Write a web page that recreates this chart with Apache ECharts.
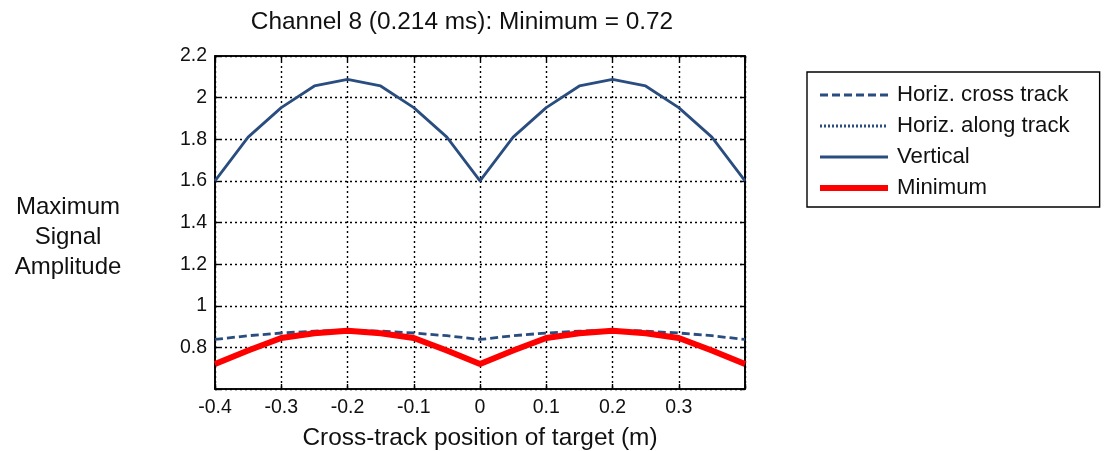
<!DOCTYPE html>
<html>
<head>
<meta charset="utf-8">
<script src="https://cdn.jsdelivr.net/npm/echarts@6/dist/echarts.min.js"></script>
<style>
  html, body { margin: 0; padding: 0; background: #fff; }
  #chart { width: 1106px; height: 451px; }
</style>
</head>
<body>
<div id="chart"></div>
<script>
// Target cross-track positions (m)
const positions = [-0.4, -0.35, -0.3, -0.25, -0.2, -0.15, -0.1, -0.05, 0,
                   0.05, 0.1, 0.15, 0.2, 0.25, 0.3, 0.35, 0.4];
// Maximum signal amplitude per sensor component
const horizCross = [0.838, 0.856, 0.869, 0.878, 0.883, 0.878, 0.869, 0.856, 0.838,
                    0.856, 0.869, 0.878, 0.883, 0.878, 0.869, 0.856, 0.838];
const horizAlong = [0.72, 0.785, 0.845, 0.868, 0.88, 0.868, 0.845, 0.785, 0.72,
                    0.785, 0.845, 0.868, 0.88, 0.868, 0.845, 0.785, 0.72];
const vertical   = [1.60, 1.81, 1.952, 2.056, 2.088, 2.056, 1.952, 1.81, 1.60,
                    1.81, 1.952, 2.056, 2.088, 2.056, 1.952, 1.81, 1.60];
const minimum    = [0.72, 0.785, 0.845, 0.868, 0.88, 0.868, 0.845, 0.785, 0.72,
                    0.785, 0.845, 0.868, 0.88, 0.868, 0.845, 0.785, 0.72];

const seriesNames = ['Horiz. cross track', 'Horiz. along track', 'Vertical', 'Minimum'];
const titleText = 'Channel 8 (0.214 ms): Minimum = 0.72';
const yName = 'Maximum\nSignal\nAmplitude';
const xName = 'Cross-track position of target (m)';

const blue = '#2a4d80';
const red = '#ff0000';
const font = 'Liberation Sans, Arial, sans-serif';

// Line styles shared between each series and its legend entry
const styles = [
  { color: blue, width: 2.8, type: [8, 4] },
  { color: blue, width: 2.8, type: [2, 2] },
  { color: blue, width: 2.8, type: 'solid' },
  { color: red, width: 6, type: 'solid' }
];
const seriesData = [horizCross, horizAlong, vertical, minimum];
const zOrder = [3, 2, 3, 4];

const pairs = arr => positions.map((x, i) => [x, arr[i]]);

const chart = echarts.init(document.getElementById('chart'));
const gridLine = { show: true, lineStyle: { color: '#000', type: [2, 3], width: 1.4 } };
const tick = { show: true, inside: true, length: 5, lineStyle: { color: '#000', width: 1.4 } };
const frameLine = { show: true, onZero: false, lineStyle: { color: '#000', width: 1.6 } };

chart.setOption({
  animation: false,
  textStyle: { fontFamily: font },
  title: [
    { text: titleText, left: 457, top: 5, textAlign: 'center',
      textStyle: { fontSize: 24.4, fontWeight: 'normal', color: '#111', fontFamily: font } },
    { text: yName, left: 63, top: 187, textAlign: 'center',
      textStyle: { fontSize: 24, fontWeight: 'normal', color: '#111', lineHeight: 30, fontFamily: font } }
  ],
  legend: {
    orient: 'vertical', left: 807, top: 72,
    data: seriesNames.map((name, i) => ({
      name, itemStyle: { opacity: 0 }, lineStyle: Object.assign({}, styles[i])
    })),
    itemWidth: 68, itemHeight: 14, itemGap: 9,
    padding: [12, 30, 8, 10],
    borderColor: '#000', borderWidth: 1.4,
    textStyle: { fontSize: 22.2, lineHeight: 22, color: '#111', fontFamily: font, padding: [0, 0, 0, 4] }
  },
  grid: { left: 215, right: 361, top: 56, bottom: 62, show: true,
    borderColor: '#000', borderWidth: 1.6, outerBoundsMode: 'none', containLabel: false },
  xAxis: [{
    type: 'value', min: -0.4, max: 0.4, interval: 0.1,
    name: xName, nameLocation: 'middle', nameGap: 37,
    nameTextStyle: { fontSize: 24.4, color: '#111', fontFamily: font },
    axisLine: frameLine, axisTick: tick, splitLine: gridLine,
    axisLabel: { fontSize: 19.5, color: '#111', margin: 9, fontFamily: font,
      formatter: v => (Math.abs(v - 0.4) < 1e-9 ? '' : String(Math.round(v * 10) / 10)) }
  }, {
    type: 'value', position: 'top', min: -0.4, max: 0.4, interval: 0.1,
    axisLine: frameLine, axisTick: tick, axisLabel: { show: false }, splitLine: { show: false }
  }],
  yAxis: [{
    type: 'value', min: 0.6, max: 2.2, interval: 0.2,
    axisLine: frameLine, axisTick: tick, splitLine: gridLine,
    axisLabel: { fontSize: 19.5, color: '#111', margin: 8, fontFamily: font,
      formatter: v => (Math.abs(v - 0.6) < 1e-9 ? '' : String(Math.round(v * 10) / 10)) }
  }, {
    type: 'value', position: 'right', min: 0.6, max: 2.2, interval: 0.2,
    axisLine: frameLine, axisTick: tick, axisLabel: { show: false }, splitLine: { show: false }
  }],
  series: seriesNames.map((name, i) => ({
    name, type: 'line', data: pairs(seriesData[i]), symbol: 'none', z: zOrder[i],
    itemStyle: { color: styles[i].color }, lineStyle: Object.assign({}, styles[i])
  }))
});
</script>
</body>
</html>
